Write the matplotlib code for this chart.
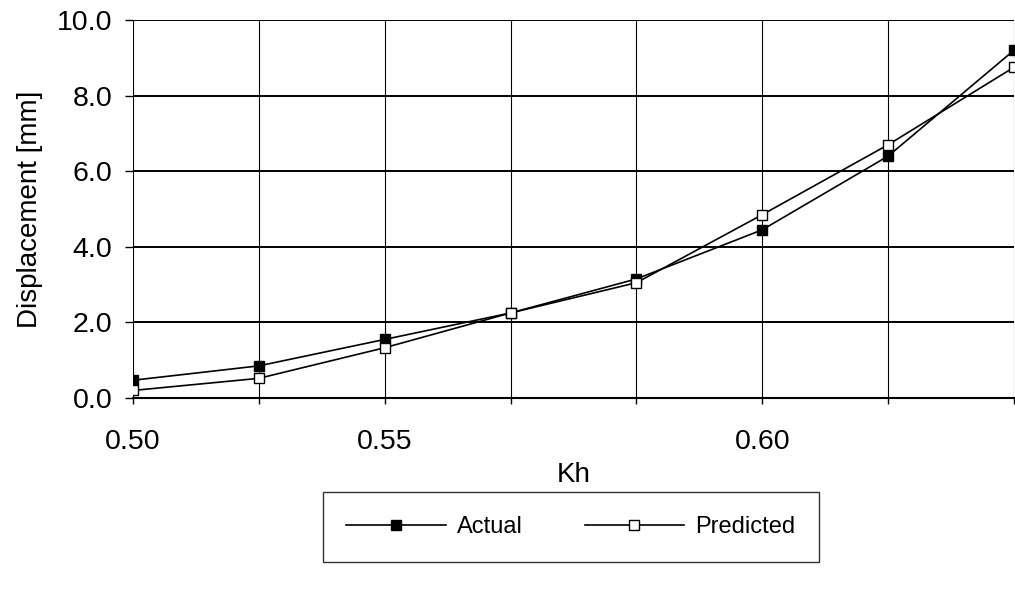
import matplotlib
matplotlib.use("Agg")
import matplotlib.pyplot as plt
from matplotlib.ticker import FormatStrFormatter

plt.rcParams['font.family'] = ['Liberation Sans', 'DejaVu Sans']

# Kh categories (only some are labelled on the original axis)
kh_labels = ["0.50", "", "0.55", "", "", "0.60", "", ""]
actual = [0.47, 0.85, 1.55, 2.25, 3.15, 4.45, 6.40, 9.20]
predicted = [0.20, 0.52, 1.33, 2.25, 3.05, 4.85, 6.70, 8.75]

x = list(range(len(kh_labels)))

fig = plt.figure(figsize=(10.15, 5.91), dpi=100)
ax = fig.add_axes([133 / 1015, 1 - 398 / 591, 881 / 1015, 378 / 591])

ax.plot(x, actual, color='black', lw=1.2, marker='s', ms=7.5,
        mfc='black', mec='black', label='Actual')
ax.plot(x, predicted, color='black', lw=1.2, marker='s', ms=7.5,
        mfc='white', mec='black', label='Predicted')

ax.set_xlim(0, len(x) - 1)
ax.set_ylim(0, 10)
ax.set_yticks([0, 2, 4, 6, 8, 10])
ax.yaxis.set_major_formatter(FormatStrFormatter('%.1f'))
ax.set_xticks(x)
ax.set_xticklabels(kh_labels)

for s in ['top', 'right', 'left']:
    ax.spines[s].set_visible(False)
ax.spines['bottom'].set_linewidth(1.5)

ax.yaxis.grid(True, color='black', lw=1.4)
ax.xaxis.grid(True, color='black', lw=0.8)
ax.set_axisbelow(True)

ax.tick_params(axis='y', labelsize=20.5, length=6, width=1, pad=9)
ax.tick_params(axis='x', labelsize=20.5, length=4, width=1, pad=18)

ax.set_ylabel('Displacement [mm]', fontsize=20, labelpad=10)
ax.set_xlabel('Kh', fontsize=20, labelpad=5)

leg = fig.legend(loc='center', bbox_to_anchor=(571 / 1015, 1 - 527 / 591),
                 ncol=2, fontsize=17, frameon=True, fancybox=False,
                 edgecolor='black', handlelength=4.2, handletextpad=0.5,
                 columnspacing=2.6, borderpad=1.0)
leg.get_frame().set_linewidth(1.0)

fig.savefig('out.png', dpi=100)
